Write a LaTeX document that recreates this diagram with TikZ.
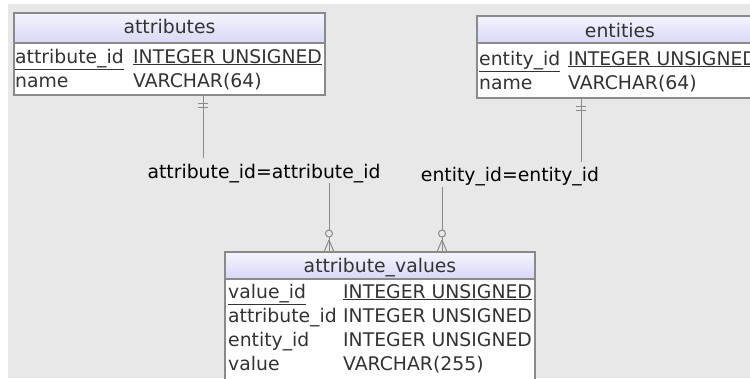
\documentclass[tikz,border=0pt]{standalone}
\usepackage{fontspec}
\setmainfont{DejaVu Sans}
\definecolor{bggray}{HTML}{E8E8E8}
\definecolor{linegray}{HTML}{8A8A8A}
\definecolor{hdtop}{HTML}{F4F4FE}
\definecolor{hdbot}{HTML}{D8D8F6}
\definecolor{txtc}{HTML}{333333}
\newcommand{\fs}{\fontsize{18.8}{22}\selectfont}
\tikzset{
  tblbody/.style={draw=linegray, line width=1.2pt, fill=white, anchor=north west, inner sep=0pt, outer sep=0pt},
  tblhead/.style={draw=linegray, line width=1.2pt, top color=hdtop, bottom color=hdbot, anchor=north west, inner sep=0pt, outer sep=0pt},
  cell/.style={anchor=base west, inner sep=0pt, text=txtc, font=\fs},
  title/.style={anchor=base, inner sep=0pt, text=txtc, font=\fs},
  rel/.style={anchor=base, inner sep=0pt, text=black, font=\fs},
  conn/.style={draw=linegray, line width=1pt},
}
\begin{document}
\begin{tikzpicture}[x=1pt,y=-1pt]
\useasboundingbox (0,0) rectangle (750,378);
\clip (0,0) rectangle (750,378);
\fill[white] (0,0) rectangle (750,378);
\fill[bggray] (8,4) rectangle (750,378);

% attributes table
\node[tblbody, minimum width=311pt, minimum height=52pt] (attrb) at (14,43) {};
\node[tblhead, minimum width=311pt, minimum height=30pt] (attrh) at (14,13) {};
\node[title] (attrt) at (169.5,33) {attributes};
\node[cell] (attrr1a) at (15,63) {\underline{attribute\_id}};
\node[cell] (attrr1b) at (133,63) {\underline{INTEGER UNSIGNED}};
\node[cell] (attrr2a) at (15,87) {name};
\node[cell] (attrr2b) at (133,87) {VARCHAR(64)};

% entities table
\node[tblbody, minimum width=286pt, minimum height=55pt] (entb) at (477,43) {};
\node[tblhead, minimum width=286pt, minimum height=27pt] (enth) at (477,16) {};
\node[title] (entt) at (620,37) {entities};
\node[cell] (entr1a) at (479,65) {\underline{entity\_id}};
\node[cell] (entr1b) at (568,65) {\underline{INTEGER UNSIGNED}};
\node[cell] (entr2a) at (479,89) {name};
\node[cell] (entr2b) at (568,89) {VARCHAR(64)};

% attribute_values table
\node[tblbody, minimum width=310pt, minimum height=130pt] (avb) at (225,279) {};
\node[tblhead, minimum width=310pt, minimum height=27pt] (avh) at (225,252) {};
\node[title] (avt) at (380,272) {attribute\_values};
\node[cell] (avr1a) at (228,298) {\underline{value\_id}};
\node[cell] (avr1b) at (343,298) {\underline{INTEGER UNSIGNED}};
\node[cell] (avr2a) at (228,322) {attribute\_id};
\node[cell] (avr2b) at (343,322) {INTEGER UNSIGNED};
\node[cell] (avr3a) at (228,346) {entity\_id};
\node[cell] (avr3b) at (343,346) {INTEGER UNSIGNED};
\node[cell] (avr4a) at (228,370) {value};
\node[cell] (avr4b) at (343,370) {VARCHAR(255)};

% relation labels
\node[rel] (lab1) at (264,178) {attribute\_id=attribute\_id};
\node[rel] (lab2) at (510,181) {entity\_id=entity\_id};

% connector anchors
\coordinate (c1top) at (203,95);
\coordinate (c1mid) at (203,158);
\coordinate (c1low) at (329,183);
\coordinate (c1end) at (329,252);
\coordinate (c2top) at (581,98);
\coordinate (c2mid) at (581,162);
\coordinate (c2low) at (442,187);
\coordinate (c2end) at (442,252);

% attributes -> label
\draw[conn] (c1top) -- (c1mid);
\draw[conn] ([xshift=-5pt,yshift=-8pt]c1top) -- ([xshift=5pt,yshift=-8pt]c1top);
\draw[conn] ([xshift=-5pt,yshift=-12pt]c1top) -- ([xshift=5pt,yshift=-12pt]c1top);
% label -> attribute_values
\draw[conn] (c1low) -- ([yshift=22pt]c1end);
\draw[conn] ([yshift=18.5pt]c1end) circle (3.5pt);
\draw[conn] ([yshift=15pt]c1end) -- (c1end);
\draw[conn] ([yshift=12pt]c1end) -- ([xshift=-5pt]c1end);
\draw[conn] ([yshift=12pt]c1end) -- ([xshift=5pt]c1end);

% entities -> label
\draw[conn] (c2top) -- (c2mid);
\draw[conn] ([xshift=-5pt,yshift=-8pt]c2top) -- ([xshift=5pt,yshift=-8pt]c2top);
\draw[conn] ([xshift=-5pt,yshift=-12pt]c2top) -- ([xshift=5pt,yshift=-12pt]c2top);
% label -> attribute_values
\draw[conn] (c2low) -- ([yshift=22pt]c2end);
\draw[conn] ([yshift=18.5pt]c2end) circle (3.5pt);
\draw[conn] ([yshift=15pt]c2end) -- (c2end);
\draw[conn] ([yshift=12pt]c2end) -- ([xshift=-5pt]c2end);
\draw[conn] ([yshift=12pt]c2end) -- ([xshift=5pt]c2end);
\end{tikzpicture}
\end{document}
